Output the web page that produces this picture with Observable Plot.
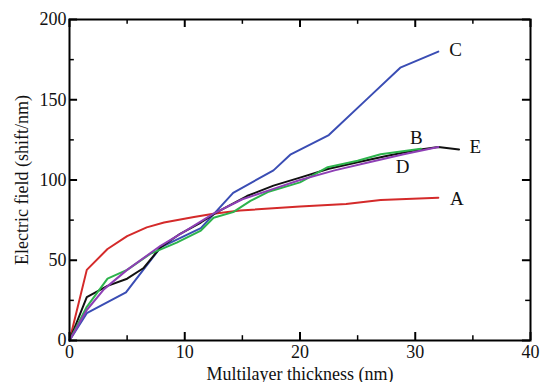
<!DOCTYPE html>
<html><head><meta charset="utf-8">
<script src="https://cdn.jsdelivr.net/npm/d3@7"></script>
<script src="https://cdn.jsdelivr.net/npm/@observablehq/plot@0.6"></script>
<style>body{margin:0;background:#fff;} svg{display:block;}</style>
</head><body><div id="chart"></div>
<script>
// Series data (x: multilayer thickness nm, y: electric field shift/nm)
const xA = [0, 1.5, 3.3, 5, 6.7, 8.2, 10.8, 12.5, 14.8, 20, 24, 27, 32];
const yA = [0, 44, 57, 65, 70.5, 73.5, 77, 79, 81, 83.5, 85, 87.5, 89];
const xC = [0, 1.5, 4.9, 7.9, 11.4, 14.2, 17.7, 19.2, 22.5, 25.9, 28.7, 32];
const yC = [0, 17, 30, 58, 70, 92, 106, 116, 128, 151, 170, 180];
const xE = [0, 1.5, 3.3, 5, 6.4, 7.9, 9.6, 11.4, 12.8, 15.4, 17.7, 20, 22.5, 25, 27.5, 30, 32, 33.8];
const yE = [0, 27, 34, 38.5, 45, 58, 66.5, 73.5, 80, 90, 96.5, 101.5, 107, 111, 115, 118.5, 120.5, 119];
const xB = [0, 1.5, 3.3, 5, 7, 9.3, 11.4, 12.5, 14.2, 15.7, 17.2, 20, 22.4, 25, 27, 30.5];
const yB = [0, 21, 38.5, 44, 54, 61, 68.5, 76.5, 80, 87, 92.5, 98.5, 108, 112, 116, 119.5];
const xD = [0, 1.5, 3, 5, 7.9, 10, 12.5, 15, 17.5, 20, 23, 26, 29, 32];
const yD = [0, 19, 32, 44, 59, 68, 79, 88, 94, 100, 106, 111, 116, 120.5];

const seriesOrder = ["A", "C", "E", "B", "D"];
const seriesColors = ["#d42a2a", "#3a4db4", "#111111", "#2db34c", "#8e3fb5"];

const labelNames = ["C", "B", "E", "D", "A"];
const labelX = [33.5, 30.1, 35.2, 28.9, 33.6];
const labelY = [181, 126, 120.5, 108, 88];

const xMajor = [0, 10, 20, 30, 40];
const xMinor = [5, 15, 25, 35];
const yMajor = [0, 50, 100, 150, 200];
const yMinor = [25, 75, 125, 175];

const seriesX = {A: xA, C: xC, E: xE, B: xB, D: xD};
const seriesY = {A: yA, C: yC, E: yE, B: yB, D: yD};
const rows = [];
for (const s of seriesOrder) seriesX[s].forEach((x, i) => rows.push({series: s, x, y: seriesY[s][i]}));
const labels = labelNames.map((t, i) => ({t, x: labelX[i], y: labelY[i]}));

const FONT = "'Liberation Serif', 'DejaVu Serif', serif";
// tick lengths in data units (x: ~11.5 px/unit, y: ~1.6 px/unit)
const xTickMajor = 5, xTickMinor = 3;
const yTickMajor = 0.7, yTickMinor = 0.42;

const chart = Plot.plot({
  width: 542, height: 382,
  marginLeft: 69, marginRight: 12, marginTop: 19, marginBottom: 42,
  style: {fontFamily: FONT, fontSize: "18px", color: "#111", background: "#fff"},
  x: {domain: [0, 40]},
  y: {domain: [0, 200]},
  color: {domain: seriesOrder, range: seriesColors},
  marks: [
    Plot.axisX(xMajor, {tickSize: 0, tickPadding: 5, fontSize: 18, fontFamily: FONT, label: "Multilayer thickness (nm)", labelAnchor: "center", labelOffset: 39, labelArrow: "none"}),
    Plot.axisY(yMajor, {tickSize: 0, tickPadding: 3, fontSize: 18, fontFamily: FONT, label: "Electric field (shift/nm)", labelAnchor: "center", labelOffset: 54, labelArrow: "none"}),
    Plot.line(rows, {x: "x", y: "y", z: "series", stroke: "series", strokeWidth: 2, strokeLinejoin: "round"}),
    Plot.text(labels, {x: "x", y: "y", text: "t", fontSize: 19, fontFamily: FONT, fill: "#111"}),
    // inward ticks, bottom / top
    Plot.ruleX(xMajor, {x: d => d, y1: 0, y2: xTickMajor, stroke: "black", strokeWidth: 2}),
    Plot.ruleX(xMajor, {x: d => d, y1: 200, y2: 200 - xTickMajor, stroke: "black", strokeWidth: 2}),
    Plot.ruleX(xMinor, {x: d => d, y1: 0, y2: xTickMinor, stroke: "black", strokeWidth: 1.5}),
    Plot.ruleX(xMinor, {x: d => d, y1: 200, y2: 200 - xTickMinor, stroke: "black", strokeWidth: 1.5}),
    // inward ticks, left / right
    Plot.ruleY(yMajor, {y: d => d, x1: 0, x2: yTickMajor, stroke: "black", strokeWidth: 2}),
    Plot.ruleY(yMajor, {y: d => d, x1: 40, x2: 40 - yTickMajor, stroke: "black", strokeWidth: 2}),
    Plot.ruleY(yMinor, {y: d => d, x1: 0, x2: yTickMinor, stroke: "black", strokeWidth: 1.5}),
    Plot.ruleY(yMinor, {y: d => d, x1: 40, x2: 40 - yTickMinor, stroke: "black", strokeWidth: 1.5}),
    Plot.frame({stroke: "black", strokeWidth: 2})
  ]
});
document.getElementById("chart").appendChild(chart);
</script>
</body></html>
